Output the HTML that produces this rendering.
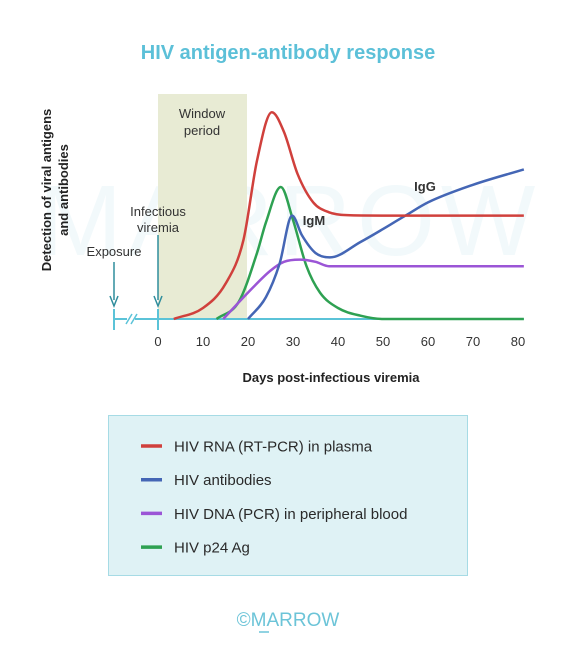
<!DOCTYPE html>
<html><head><meta charset="utf-8"><style>
body{margin:0;background:#fff;}
svg{display:block;font-family:"Liberation Sans",sans-serif;}
</style></head><body>
<svg width="576" height="667" viewBox="0 0 576 667">
<text x="288" y="59" text-anchor="middle" font-size="20" font-weight="bold" fill="#5cc0d8">HIV antigen-antibody response</text>
<text x="290" y="255" text-anchor="middle" font-size="100" fill="#f2f9fb" letter-spacing="6">MARROW</text>
<rect x="158" y="94" width="89" height="225" fill="#e8ebd4"/>
<text x="202" y="118" text-anchor="middle" font-size="13" fill="#333"><tspan x="202">Window</tspan><tspan x="202" dy="17">period</tspan></text>
<g transform="translate(51,190) rotate(-90)">
<text x="0" y="0" text-anchor="middle" font-size="13" font-weight="bold" fill="#222">Detection of viral antigens</text>
<text x="0" y="17" text-anchor="middle" font-size="13" font-weight="bold" fill="#222">and antibodies</text>
</g>
<g id="axis"></g>
<g id="marks"></g>
<text x="158" y="216" text-anchor="middle" font-size="13" fill="#333"><tspan x="158">Infectious</tspan><tspan x="158" dy="16">viremia</tspan></text>
<text x="114" y="256" text-anchor="middle" font-size="13" fill="#333">Exposure</text>
<text x="425" y="191" text-anchor="middle" font-size="13" font-weight="bold" fill="#333">IgG</text>
<text x="314" y="225" text-anchor="middle" font-size="13" font-weight="bold" fill="#333">IgM</text>
<text x="331" y="382" text-anchor="middle" font-size="13" font-weight="bold" fill="#222">Days post-infectious viremia</text>
<rect x="108.5" y="415.5" width="359" height="160" fill="#dff2f5" stroke="#a6dbe5"/>
<g id="legend"></g>
<text x="288" y="626" text-anchor="middle" font-size="19" fill="#6cc4d8">©MARROW</text>
<line x1="259" y1="632" x2="269" y2="632" stroke="#6cc4d8" stroke-width="1.5"/>
</svg>
<script>
const tickDays=[0,10,20,30,40,50,60,70,80];
const seriesNames=["HIV RNA (RT-PCR) in plasma","HIV antibodies","HIV DNA (PCR) in peripheral blood","HIV p24 Ag"];
const seriesColors=["#d0403c","#4466b5","#9b55d6","#2ea152"];
const rnaDays=[3.5,10,15,19,22,25.3,28,31,34.5,38,42,50,81.3];
const rnaVals=[0,5,16,36,72,94,85,66,53,48.5,47.2,47,47];
const abDays=[20,24,27,29.8,32,35,38.2,45,55,60,70,81.3];
const abVals=[0,10,25,47,38,30,28,35,47,53,61,68];
const dnaDays=[14.5,20,25,28,31.5,35,38,45,81.3];
const dnaVals=[0,12,22,26,27,26,24,24,24];
const p24Days=[13,18,22,24,27.3,30,33,36,40,45,50,81.3];
const p24Vals=[0,8,30,44,60,45,24,12,5,1.5,0,0];
const NS="http://www.w3.org/2000/svg";
const xS=d=>158+d*4.5;
const yS=v=>319-v*2.2;
function mk(tag,attrs,parent){const e=document.createElementNS(NS,tag);for(const k in attrs)e.setAttribute(k,attrs[k]);parent.appendChild(e);return e;}
const axis=document.getElementById('axis');
let l=mk('line',{x1:114,y1:319,x2:xS(81.3),y2:319,stroke:'#5bc3d8','stroke-width':2},axis);


[114,158].forEach((x,i)=>{
 let t=mk('line',{x1:x,y1:309,x2:x,y2:330,stroke:'#5bc3d8','stroke-width':2},axis);
 
 
 let a=mk('line',{x1:x,y1:i?235:262,x2:x,y2:300,stroke:'#2f8d9c','stroke-width':1.5},axis);
 
 
 let h=mk('path',{d:`M${x-4},${296} L${x},${306} L${x+4},${296}`,fill:'none',stroke:'#2f8d9c','stroke-width':1.5},axis);
 
 
});
let wb=mk('rect',{x:127,y:316,width:8,height:6,fill:'#fff'},axis);


let br=mk('path',{d:'M126,324 L132,314 M131,324 L137,314',stroke:'#5bc3d8','stroke-width':1.5,fill:'none'},axis);


tickDays.forEach(d=>{
 let t=mk('text',{x:xS(d),y:346,'text-anchor':'middle','font-size':13,fill:'#333'},axis);
 t.textContent=d;
 
 
});
function path(xs,ys){
 const n=xs.length,d=[],m=new Array(n);
 for(let i=0;i<n-1;i++)d.push((ys[i+1]-ys[i])/(xs[i+1]-xs[i]));
 m[0]=d[0];m[n-1]=d[n-2];
 for(let i=1;i<n-1;i++){m[i]=(d[i-1]*d[i]<=0)?0:(d[i-1]+d[i])/2;}
 for(let i=0;i<n-1;i++){
  if(d[i]===0){m[i]=0;m[i+1]=0;continue;}
  const a=m[i]/d[i],b=m[i+1]/d[i],s=a*a+b*b;
  if(s>9){const t=3/Math.sqrt(s);m[i]=t*a*d[i];m[i+1]=t*b*d[i];}
 }
 let s=`M${xS(xs[0])},${yS(ys[0])}`;
 for(let i=0;i<n-1;i++){
  const h=xs[i+1]-xs[i];
  const c1x=xs[i]+h/3,c1y=ys[i]+m[i]*h/3,c2x=xs[i+1]-h/3,c2y=ys[i+1]-m[i+1]*h/3;
  s+=` C${xS(c1x)},${yS(c1y)} ${xS(c2x)},${yS(c2y)} ${xS(xs[i+1])},${yS(ys[i+1])}`;
 }
 return s;
}
const marks=document.getElementById('marks');
const sets=[[p24Days,p24Vals,3,'p24-line'],[dnaDays,dnaVals,2,'dna-line'],[abDays,abVals,1,'antibody-line'],[rnaDays,rnaVals,0,'rna-line']];
sets.forEach(s=>{
 let e=mk('path',{d:path(s[0],s[1]),fill:'none',stroke:seriesColors[s[2]],'stroke-width':2.5,'stroke-linejoin':'round'},marks);
 
 
});
const lg=document.getElementById('legend');
seriesNames.forEach((n,i)=>{
 const y=446+i*33.7;
 let ln=mk('line',{x1:141,y1:y,x2:162,y2:y,stroke:seriesColors[i],'stroke-width':3.5},lg);
 
 
 let t=mk('text',{x:174,y:y+5.5,'font-size':15,fill:'#2a2a2a'},lg);
 t.textContent=n;
 
 
});
</script>
</body></html>
